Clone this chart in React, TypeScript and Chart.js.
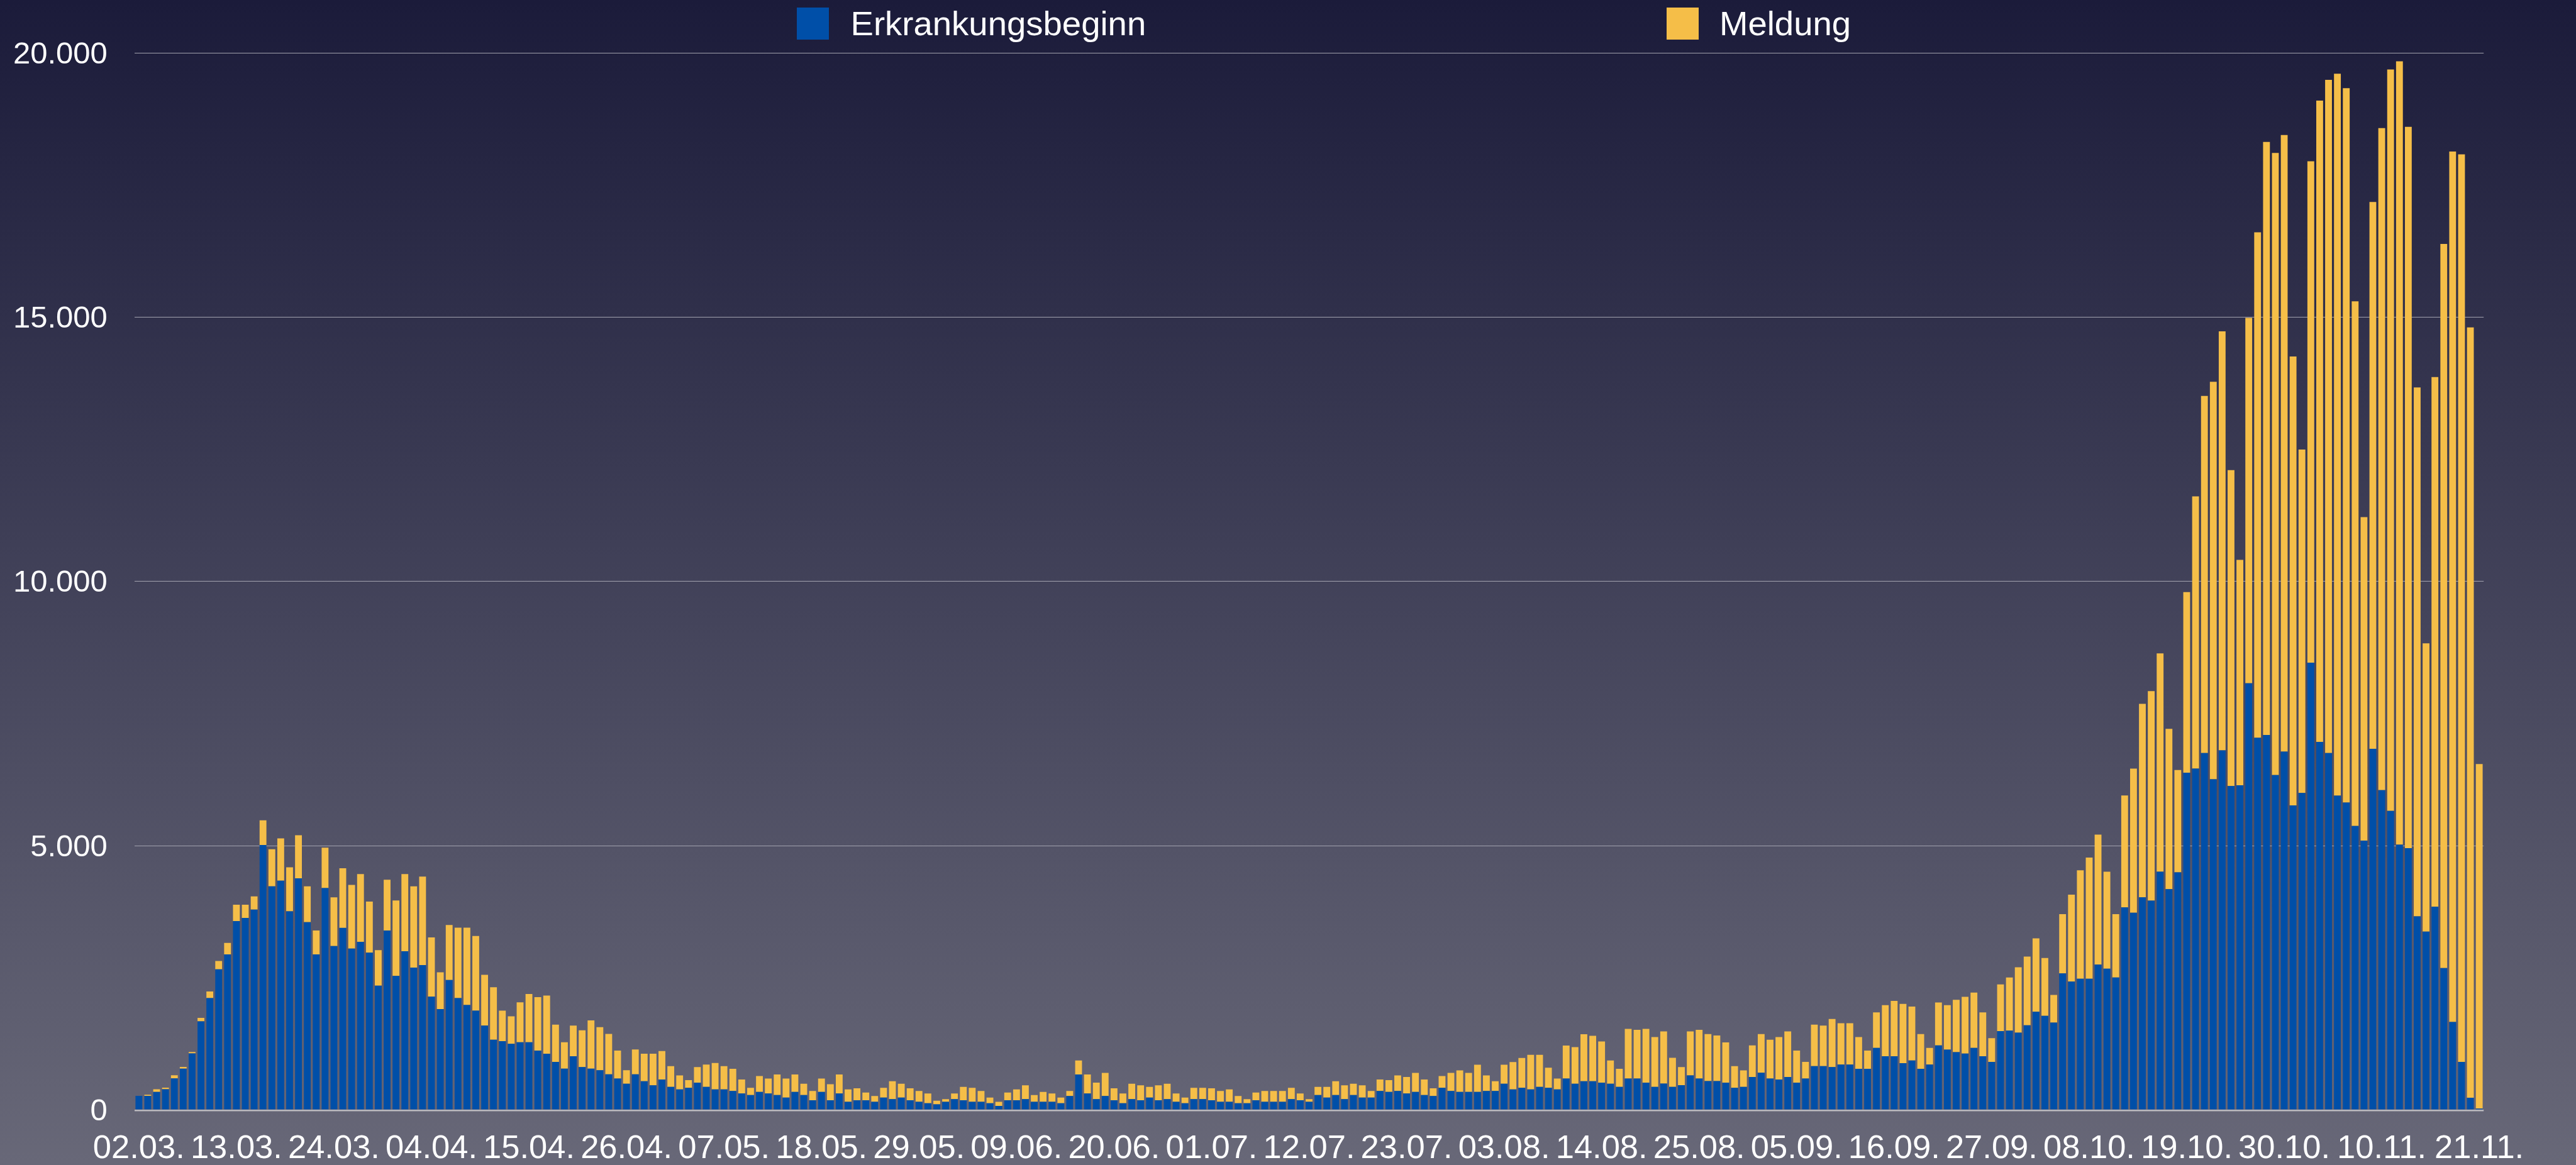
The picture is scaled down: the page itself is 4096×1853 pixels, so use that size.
import React, { useEffect, useRef } from "react";
import { Chart, registerables } from "chart.js";

Chart.register(...registerables);

const W = 4096;
const H = 1853;

const BLUE = "#004fa8";
const YELLOW = "#f5be48";

const seriesNames = ["Erkrankungsbeginn", "Meldung"];

// category labels: daily dates from 02.03. (2020), 265 days
const firstDay = { year: 2020, month: 2, day: 2 };
const dayCount = 265;
const labelEvery = 11;
const dateLabels: string[] = [];
for (let i = 0; i < dayCount; i++) {
  const d = new Date(firstDay.year, firstDay.month, firstDay.day + i);
  dateLabels.push(
    String(d.getDate()).padStart(2, "0") + "." + String(d.getMonth() + 1).padStart(2, "0") + "."
  );
}

const yTicks = [0, 5000, 10000, 15000, 20000];

// Erkrankungsbeginn (blue, bottom segment)
const erkrankungsbeginn = [
  270, 270, 346, 397, 601, 786, 1073, 1679, 2119, 2665,
  2948, 3577, 3636, 3793, 5016, 4234, 4340, 3762, 4387, 3558,
  2948, 4202, 3105, 3448, 3058, 3184, 2980, 2355, 3400, 2540,
  3007, 2697, 2744, 2148, 1913, 2462, 2119, 1991, 1884, 1599,
  1334, 1305, 1256, 1285, 1285, 1128, 1069, 912, 785, 1020,
  814, 785, 755, 677, 598, 500, 677, 549, 471, 579,
  441, 392, 422, 520, 441, 392, 393, 364, 315, 286,
  345, 315, 286, 237, 345, 286, 189, 345, 189, 315,
  159, 189, 189, 159, 237, 208, 237, 189, 159, 130,
  111, 159, 208, 189, 159, 159, 130, 81, 189, 189,
  208, 159, 159, 159, 130, 267, 676, 315, 208, 267,
  189, 130, 208, 189, 237, 189, 208, 159, 130, 208,
  208, 189, 159, 159, 130, 130, 189, 159, 159, 159,
  208, 189, 159, 286, 237, 286, 208, 286, 237, 237,
  364, 345, 364, 315, 345, 286, 267, 423, 364, 345,
  345, 345, 364, 364, 501, 393, 423, 393, 442, 423,
  393, 598, 501, 549, 549, 520, 501, 442, 598, 598,
  522, 442, 503, 442, 472, 659, 598, 552, 552, 522,
  423, 442, 628, 708, 598, 579, 628, 522, 598, 834,
  834, 815, 864, 864, 784, 784, 1177, 1021, 1021, 891,
  941, 784, 864, 1226, 1146, 1097, 1070, 1177, 1021, 914,
  1495, 1504, 1466, 1606, 1861, 1784, 1657, 2587, 2434, 2485,
  2485, 2753, 2676, 2511, 3836, 3734, 4027, 3964, 4512, 4180,
  4499, 6385, 6462, 6755, 6258, 6806, 6130, 6145, 8075, 7044,
  7097, 6340, 6783, 5766, 6001, 8466, 6966, 6757, 5949, 5818,
  5375, 5101, 6836, 6053, 5662, 5022, 4957, 3666, 3379, 3848,
  2687, 1670, 913, 235, 30,
];

// Meldung (yellow, stacked on top)
const meldung = [
  0, 21, 51, 28, 59, 32, 28, 66, 126, 157,
  216, 311, 252, 252, 468, 703, 802, 833, 814, 676,
  452, 763, 920, 1128, 1203, 1282, 967, 672, 959, 1426,
  1459, 1537, 1674, 1119, 696, 1040, 1334, 1462, 1412, 961,
  991, 579, 520, 755, 912, 1011, 1099, 707, 500, 579,
  697, 912, 815, 765, 530, 255, 471, 520, 598, 539,
  393, 265, 147, 294, 422, 501, 439, 419, 264, 137,
  302, 283, 390, 361, 331, 215, 175, 253, 302, 361,
  234, 224, 146, 108, 186, 341, 264, 224, 205, 185,
  68, 49, 107, 253, 264, 205, 107, 78, 146, 204,
  263, 127, 186, 156, 107, 97, 263, 361, 312, 438,
  224, 185, 293, 282, 205, 282, 293, 156, 107, 215,
  215, 224, 205, 234, 137, 78, 146, 205, 205, 205,
  215, 126, 49, 156, 205, 263, 263, 215, 234, 127,
  215, 224, 293, 312, 360, 293, 146, 224, 341, 409,
  360, 516, 293, 185, 360, 517, 565, 654, 605, 380,
  205, 624, 692, 888, 858, 780, 438, 341, 940, 921,
  1016, 940, 986, 548, 343, 830, 921, 887, 861, 761,
  411, 312, 598, 731, 735, 803, 861, 605, 316, 784,
  765, 910, 781, 781, 598, 343, 674, 967, 1047, 1120,
  1020, 655, 313, 811, 842, 990, 1074, 1047, 830, 449,
  885, 1007, 1236, 1300, 1389, 1096, 522, 1122, 1644, 2052,
  2294, 2460, 1836, 1198, 2116, 2728, 3658, 3963, 4129, 3034,
  1937, 3416, 5149, 6755, 7519, 7927, 5978, 4265, 6914, 9562,
  11218, 11766, 11663, 8492, 6496, 9484, 12132, 12732, 13658, 13515,
  9927, 6118, 10344, 12523, 14023, 14819, 13645, 10005, 5453, 10019,
  13698, 16463, 17167, 14571, 6519,
];

const FONT = '"Liberation Sans", Arial, Helvetica, sans-serif';

function fmt(v: number): string {
  return String(v).replace(/\B(?=(\d{3})+(?!\d))/g, ".");
}

export default function App() {
  const ref = useRef<HTMLCanvasElement | null>(null);

  useEffect(() => {
    const canvas = ref.current;
    if (!canvas) return;
    const chart = new Chart(canvas, {
      type: "bar",
      data: {
        labels: dateLabels,
        datasets: [
          {
            label: seriesNames[0],
            data: erkrankungsbeginn,
            backgroundColor: BLUE,
            borderWidth: 0,
            barPercentage: 0.77,
            categoryPercentage: 1.0,
          },
          {
            label: seriesNames[1],
            data: meldung,
            backgroundColor: YELLOW,
            borderWidth: 0,
            barPercentage: 0.77,
            categoryPercentage: 1.0,
          },
        ],
      },
      options: {
        responsive: false,
        animation: false,
        devicePixelRatio: 1,
        layout: { padding: { top: 84.1, right: 146.8, bottom: 0, left: 0 } },
        plugins: {
          legend: { display: false },
          tooltip: { enabled: false },
        },
        scales: {
          x: {
            stacked: true,
            offset: true,
            grid: { display: false, drawTicks: false },
            border: { display: false },
            ticks: {
              autoSkip: false,
              maxRotation: 0,
              minRotation: 0,
              padding: 30,
              color: "#ffffff",
              font: { family: FONT, size: 52.5 },
              callback: (_v: any, i: number) => (i % labelEvery === 0 ? dateLabels[i] : null),
            },
            afterFit: (s: any) => {
              s.height = 87.2;
            },
          },
          y: {
            stacked: true,
            min: yTicks[0],
            max: yTicks[yTicks.length - 1],
            afterBuildTicks: (s: any) => {
              s.ticks = yTicks.map((v) => ({ value: v }));
            },
            grid: {
              drawTicks: false,
              color: (c: any) => (c.tick && c.tick.value === 0 ? "#b9b9bf" : "#a2a2ae"),
              lineWidth: (c: any) => (c.tick && c.tick.value === 0 ? 2.4 : 1.1),
            },
            border: { display: false },
            ticks: {
              padding: 43,
              labelOffset: 3,
              color: "#ffffff",
              font: { family: FONT, size: 49 },
              callback: (v: any) => fmt(Number(v)),
            },
            afterFit: (s: any) => {
              s.width = 213.8;
            },
          },
        },
      },
    });
    return () => chart.destroy();
  }, []);

  const legendText: React.CSSProperties = {
    position: "absolute",
    top: 12,
    height: 51,
    lineHeight: "51px",
    fontFamily: FONT,
    fontSize: 54.5,
    color: "#ffffff",
    whiteSpace: "nowrap",
  };

  return (
    <div
      style={{
        position: "fixed",
        left: 0,
        top: 0,
        width: W,
        height: H,
        overflow: "hidden",
        background: "linear-gradient(to bottom, #1b1b3a 0%, #686878 100%)",
      }}
    >
      <canvas ref={ref} width={W} height={H} style={{ position: "absolute", left: 0, top: 0, width: W, height: H }} />
      <div style={{ position: "absolute", left: 1266.5, top: 11.5, width: 51, height: 51, background: BLUE }} />
      <div style={{ ...legendText, left: 1352.6 }}>{seriesNames[0]}</div>
      <div style={{ position: "absolute", left: 2650, top: 11.5, width: 51, height: 51, background: YELLOW }} />
      <div style={{ ...legendText, left: 2734 }}>{seriesNames[1]}</div>
    </div>
  );
}
